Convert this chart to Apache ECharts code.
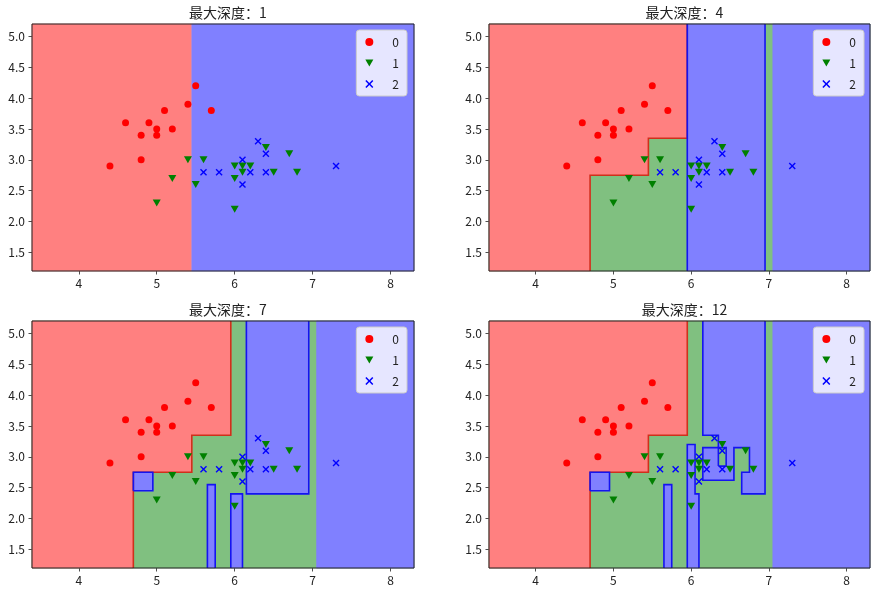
<!DOCTYPE html>
<html>
<head>
<meta charset="utf-8">
<script src="https://cdn.jsdelivr.net/npm/echarts@6/dist/echarts.min.js"></script>
<style>html,body{margin:0;padding:0;background:#fff}#c{width:876px;height:593px}</style>
</head>
<body>
<div id="c"></div>
<script>
// ---- data ----
const X0 = 3.4, X1 = 8.3, Y0 = 1.2, Y1 = 5.2;
const xTicks = [4, 5, 6, 7, 8];
const yTicks = [1.5, 2.0, 2.5, 3.0, 3.5, 4.0, 4.5, 5.0];
const depths = [1, 4, 7, 12];
const classNames = ['0', '1', '2'];

const class0 = [[4.4,2.9],[4.6,3.6],[4.8,3.4],[4.8,3.0],[4.9,3.6],[5.0,3.5],[5.0,3.4],[5.1,3.8],[5.2,3.5],[5.4,3.9],[5.5,4.2],[5.7,3.8]];
const class1 = [[5.0,2.3],[5.2,2.7],[5.4,3.0],[5.5,2.6],[5.6,3.0],[6.0,2.9],[6.0,2.7],[6.0,2.2],[6.1,2.9],[6.1,2.8],[6.2,2.9],[6.4,3.2],[6.5,2.8],[6.7,3.1],[6.8,2.8]];
const class2 = [[5.6,2.8],[5.8,2.8],[6.1,3.0],[6.1,2.6],[6.2,2.8],[6.3,3.3],[6.4,3.1],[6.4,2.8],[7.3,2.9]];

function rect(x0, x1, y0, y1) { return [[x0,y0],[x1,y0],[x1,y1],[x0,y1]]; }
const fullRect = rect(X0, X1, Y0, Y1);
const redPoly = [[X0,Y0],[4.7,Y0],[4.7,2.75],[5.45,2.75],[5.45,3.35],[5.95,3.35],[5.95,Y1],[X0,Y1]];
const redEdge = [[4.7,Y0],[4.7,2.75],[5.45,2.75],[5.45,3.35],[5.95,3.35],[5.95,Y1]];
const smallBox = [[4.7,2.45],[4.95,2.45],[4.95,2.75],[4.7,2.75],[4.7,2.45]];
const stripA = [[5.65,Y0],[5.65,2.55],[5.75,2.55],[5.75,Y0]];
const strip7 = [[5.95,Y0],[5.95,2.4],[6.1,2.4],[6.1,Y0]];
const tall7 = [[6.15,Y1],[6.15,2.4],[6.95,2.4],[6.95,Y1]];
const strip12 = [[5.95,Y0],[5.95,3.2],[6.05,3.2],[6.05,2.4],[6.1,2.4],[6.1,Y0]];
const tall12 = [[6.15,Y1],[6.15,3.35],[6.35,3.35],[6.35,3.15],[6.15,3.15],[6.15,2.62],[6.55,2.62],[6.55,3.15],[6.75,3.15],[6.75,2.75],[6.65,2.75],[6.65,2.4],[6.95,2.4],[6.95,Y1]];
const notch12 = [[6.35,2.85],[6.45,2.85],[6.45,3.15],[6.35,3.15],[6.35,2.85]];

const regionsD1 = [
  {cls:0, pts: rect(X0, 5.45, Y0, Y1)},
  {cls:2, pts: rect(5.45, X1, Y0, Y1)}
];
const regionsD4 = [
  {cls:1, pts: fullRect},
  {cls:0, pts: redPoly},
  {cls:2, pts: rect(5.95, 6.95, Y0, Y1)},
  {cls:2, pts: rect(7.05, X1, Y0, Y1)}
];
const regionsD7 = [
  {cls:1, pts: fullRect},
  {cls:0, pts: redPoly},
  {cls:2, pts: smallBox},
  {cls:2, pts: stripA},
  {cls:2, pts: strip7},
  {cls:2, pts: tall7},
  {cls:2, pts: rect(7.05, X1, Y0, Y1)}
];
const regionsD12 = [
  {cls:1, pts: fullRect},
  {cls:0, pts: redPoly},
  {cls:2, pts: smallBox},
  {cls:2, pts: stripA},
  {cls:2, pts: strip12},
  {cls:2, pts: tall12},
  {cls:1, pts: notch12},
  {cls:2, pts: rect(7.05, X1, Y0, Y1)}
];
const linesD1 = [];
const linesD4 = [
  {cls:0, pts: redEdge},
  {cls:2, pts: [[5.95,Y0],[5.95,Y1]]},
  {cls:2, pts: [[6.95,Y0],[6.95,Y1]]}
];
const linesD7 = [
  {cls:0, pts: redEdge},
  {cls:2, pts: smallBox},
  {cls:2, pts: stripA},
  {cls:2, pts: strip7},
  {cls:2, pts: tall7}
];
const linesD12 = [
  {cls:0, pts: redEdge},
  {cls:2, pts: smallBox},
  {cls:2, pts: stripA},
  {cls:2, pts: strip12},
  {cls:2, pts: tall12},
  {cls:2, pts: notch12}
];
const allRegions = [regionsD1, regionsD4, regionsD7, regionsD12];
const allLines = [linesD1, linesD4, linesD7, linesD12];

// ---- styles / layout ----
const FONT = '"Noto Sans CJK SC", "DejaVu Sans", sans-serif';
const FILL = ['#ff8080', '#80c080', '#8080ff'];
const EDGE = ['#d0301c', '#80c080', '#1414f0'];
const POINT = ['#ff0000', '#008000', '#0000ff'];
const TRI = 'path://M0,0 L10,0 L5,8.5 Z';
const XMARK = 'path://M0,1.4 L1.4,0 L5,3.6 L8.6,0 L10,1.4 L6.4,5 L10,8.6 L8.6,10 L5,6.4 L1.4,10 L0,8.6 L3.6,5 Z';
const SYMBOLS = ['circle', TRI, XMARK];
const SIZES = [7, [8, 7], 7];
const grids = [
  {left: 32, top: 24, width: 382, height: 247},
  {left: 489, top: 24, width: 381, height: 247},
  {left: 32, top: 321, width: 382, height: 247},
  {left: 489, top: 321, width: 381, height: 247}
];
const legendPos = [
  {right: 469, top: 30}, {right: 12, top: 30},
  {right: 469, top: 327}, {right: 12, top: 327}
];

const chart = echarts.init(document.getElementById('c'), null, {renderer: 'canvas'});

const xAxes = grids.map((g, i) => ({
  type: 'value', gridIndex: i, min: X0, max: X1,
  axisLine: {show: false}, splitLine: {show: false},
  axisTick: {show: true, length: 3.5, lineStyle: {color: '#222', width: 0.8}, customValues: xTicks},
  axisLabel: {color: '#222', fontSize: 12, fontFamily: FONT, margin: 6, customValues: xTicks, formatter: v => String(v)}
}));
const yAxes = grids.map((g, i) => ({
  type: 'value', gridIndex: i, min: Y0, max: Y1,
  axisLine: {show: false}, splitLine: {show: false},
  axisTick: {show: true, length: 3.5, lineStyle: {color: '#222', width: 0.8}, customValues: yTicks},
  axisLabel: {color: '#222', fontSize: 12, fontFamily: FONT, margin: 7, customValues: yTicks, formatter: v => v.toFixed(1)}
}));

const series = [];
grids.forEach((g, i) => {
  const regions = allRegions[i];
  const lines = allLines[i];
  series.push({
    type: 'custom', xAxisIndex: i, yAxisIndex: i, silent: true, z: 1, clip: false,
    data: regions.map(r => r.pts[0]),
    renderItem: (params, api) => {
      const r = regions[params.dataIndex];
      return {type: 'polygon', shape: {points: r.pts.map(p => api.coord(p))},
        style: {fill: FILL[r.cls], stroke: FILL[r.cls], lineWidth: 0.6}};
    }
  });
  if (lines.length) {
    series.push({
      type: 'custom', xAxisIndex: i, yAxisIndex: i, silent: true, z: 2, clip: false,
      data: lines.map(l => l.pts[0]),
      renderItem: (params, api) => {
        const l = lines[params.dataIndex];
        return {type: 'polyline', shape: {points: l.pts.map(p => api.coord(p))},
          style: {fill: null, stroke: EDGE[l.cls], lineWidth: 1.6}};
      }
    });
  }
  [class0, class1, class2].forEach((pts, k) => {
    series.push({
      type: 'scatter', name: classNames[k], xAxisIndex: i, yAxisIndex: i, z: 5,
      symbol: SYMBOLS[k], symbolSize: SIZES[k], data: pts,
      itemStyle: {color: POINT[k], opacity: 1}
    });
  });
  series.push({
    type: 'custom', xAxisIndex: i, yAxisIndex: i, silent: true, z: 8, clip: false,
    data: [[X0, Y0]],
    renderItem: (params, api) => {
      const a = api.coord([X0, Y1]), b = api.coord([X1, Y0]);
      return {type: 'rect', shape: {x: a[0], y: a[1], width: b[0] - a[0], height: b[1] - a[1]},
        style: {fill: null, stroke: '#222', lineWidth: 1}};
    }
  });
});

const titles = grids.map((g, i) => ({
  text: '最大深度：' + depths[i],
  left: g.left + g.width / 2, top: g.top - 23, textAlign: 'center',
  textStyle: {fontSize: 14, fontWeight: 'normal', color: '#222', fontFamily: FONT}
}));

const legends = grids.map((g, i) => ({
  orient: 'vertical', right: legendPos[i].right, top: legendPos[i].top,
  data: classNames.map((n, k) => ({name: n, icon: SYMBOLS[k]})),
  itemWidth: 8, itemHeight: 8, itemGap: 9,
  backgroundColor: 'rgba(255,255,255,0.8)', borderColor: '#cccccc', borderWidth: 1, borderRadius: 3,
  padding: [6, 8, 6, 9], selectedMode: false,
  textStyle: {fontSize: 12, color: '#222', fontFamily: FONT, padding: [0, 0, 0, 14]}
}));

chart.setOption({
  animation: false,
  backgroundColor: '#ffffff',
  title: titles,
  legend: legends,
  grid: grids,
  xAxis: xAxes,
  yAxis: yAxes,
  series: series
});
</script>
</body>
</html>
